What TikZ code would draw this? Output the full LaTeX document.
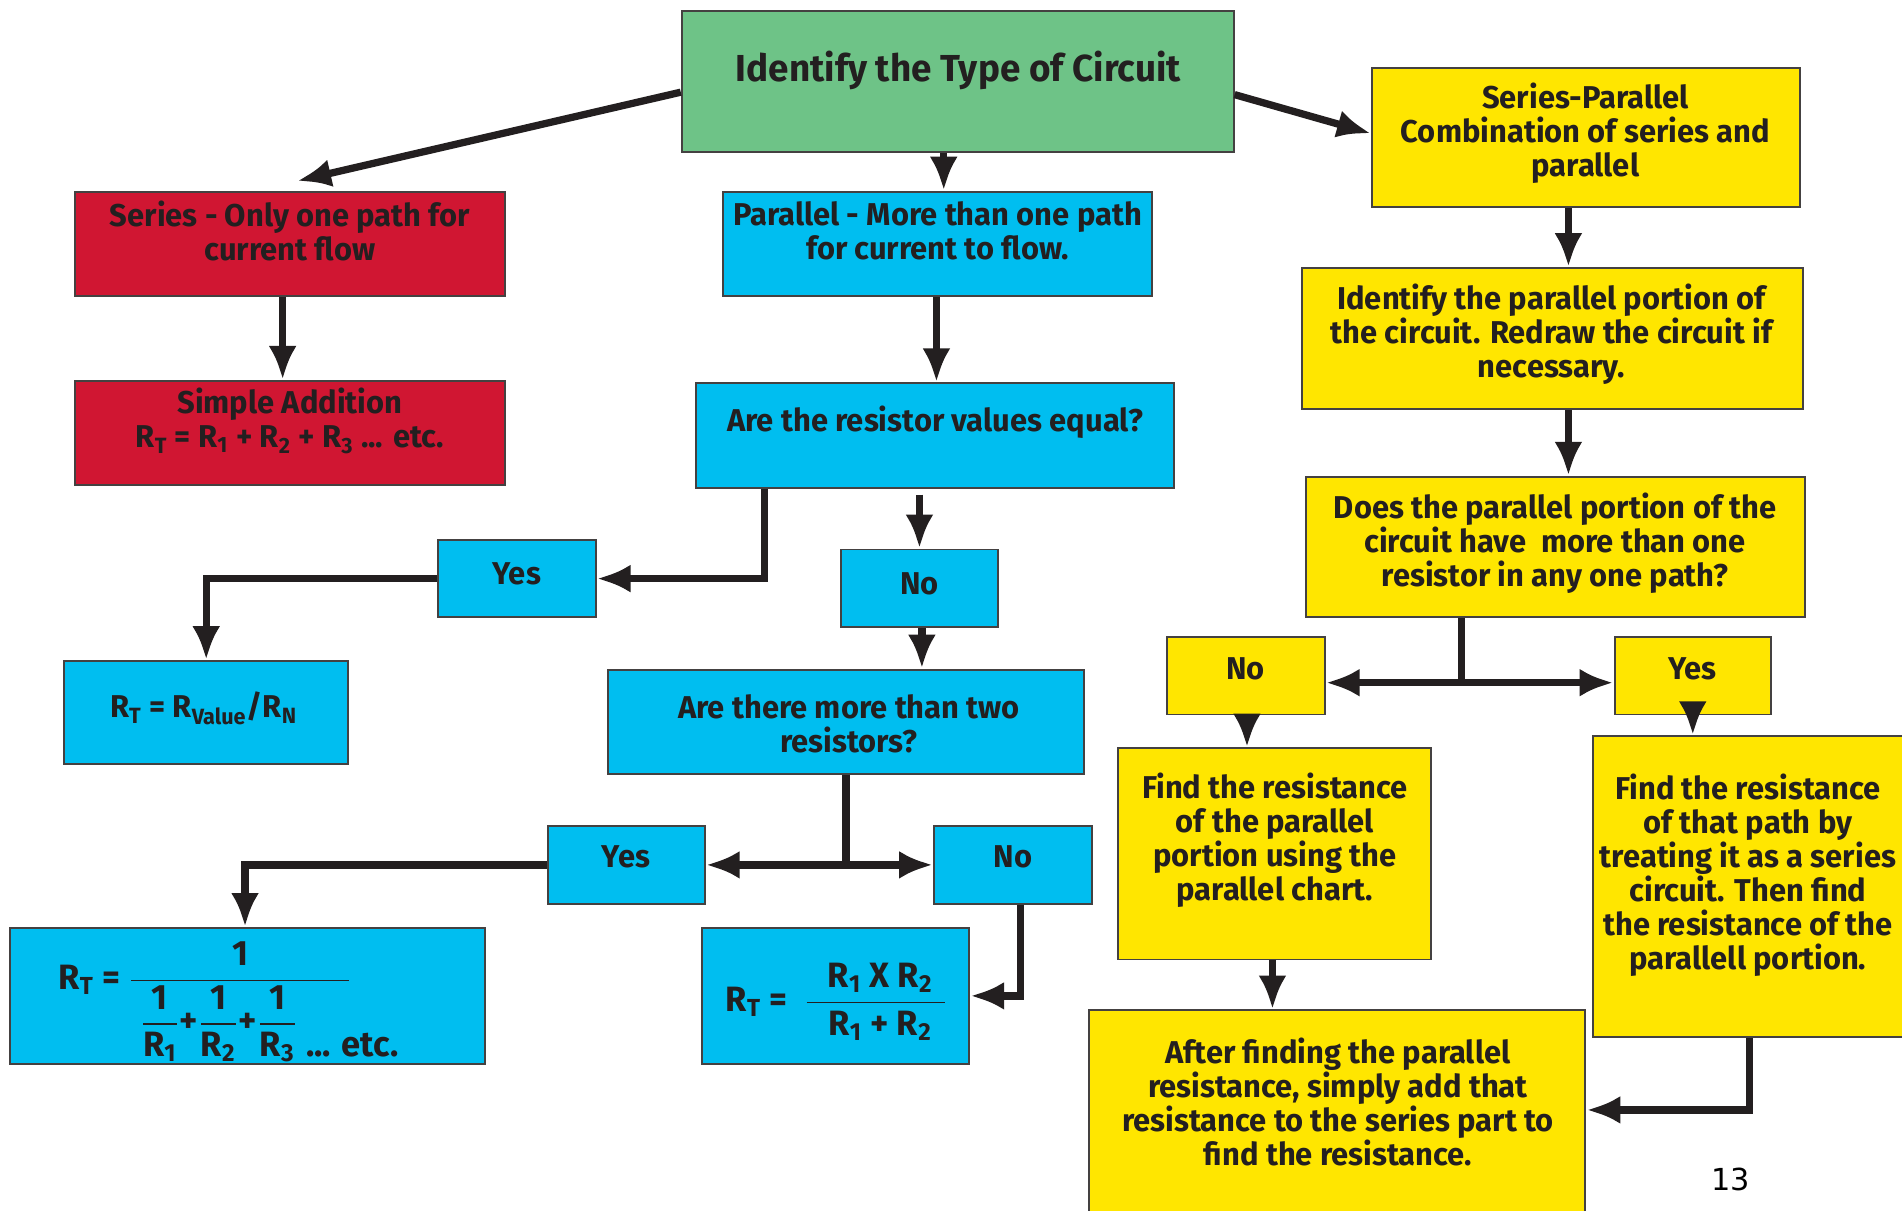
\documentclass[tikz,border=0pt]{standalone}
\usepackage{fontspec}
\usepackage{amsmath}
\setmainfont{Fira Sans}[FakeStretch=0.98]
\newfontfamily\pagefont{DejaVu Sans}
\usetikzlibrary{arrows.meta,calc}
\definecolor{ink}{HTML}{231F20}
\definecolor{cgreen}{HTML}{6EC387}
\definecolor{cred}{HTML}{D01632}
\definecolor{cblue}{HTML}{00BEF0}
\definecolor{cyellow}{HTML}{FFE600}
\tikzset{
  box/.style={draw=ink!85, line width=0.8pt, inner sep=0pt, rectangle},
  gbox/.style={box, fill=cgreen},
  rbox/.style={box, fill=cred},
  bbox/.style={box, fill=cblue},
  ybox/.style={box, fill=cyellow},
  txt/.style={font=\fontsize{13}{14}\selectfont\bfseries, text=ink, align=center, inner sep=0pt},
  fmtxt/.style={font=\fontsize{14.5}{16}\selectfont\bfseries, text=ink, align=center, inner sep=0pt},
  bigtxt/.style={font=\fontsize{15.5}{18}\selectfont\bfseries, text=ink, align=center, inner sep=0pt},
  conn/.style={draw=ink, line width=3pt, -{Latex[length=14pt,width=11.5pt]}},
  wire/.style={draw=ink, line width=3pt},
}
\newcommand{\sbs}[1]{\textsubscript{#1}}
\begin{document}
\begin{tikzpicture}[x=0.5pt,y=-0.5pt]
\useasboundingbox[fill=white] (0,0) rectangle (1568,998);

% boxes
\node[gbox, minimum width=227.5pt, minimum height=58pt] (green) at (789.5,67) {};
\node[rbox, minimum width=177pt, minimum height=43pt] (series) at (239,201) {};
\node[rbox, minimum width=177pt, minimum height=43pt] (simple) at (239,357) {};
\node[bbox, minimum width=177pt, minimum height=43pt] (parallel) at (773,201) {};
\node[bbox, minimum width=197pt, minimum height=43pt] (equal) at (771,359) {};
\node[bbox, minimum width=65pt, minimum height=32pt] (yes1) at (426,477) {};
\node[bbox, minimum width=65pt, minimum height=32pt] (no1) at (758,485) {};
\node[bbox, minimum width=117pt, minimum height=42.5pt] (rv) at (170,587.5) {};
\node[bbox, minimum width=196.5pt, minimum height=43pt] (more) at (697.5,595) {};
\node[bbox, minimum width=64.5pt, minimum height=32pt] (yes2) at (516.5,713) {};
\node[bbox, minimum width=65pt, minimum height=32pt] (no2) at (835,713) {};
\node[bbox, minimum width=196pt, minimum height=56pt] (big) at (204,821) {};
\node[bbox, minimum width=110pt, minimum height=56pt] (rtwo) at (689,821) {};
\node[ybox, minimum width=176.5pt, minimum height=57.5pt] (sp) at (1307.5,113.5) {};
\node[ybox, minimum width=206.5pt, minimum height=58pt] (ident) at (1279.5,279) {};
\node[ybox, minimum width=205.5pt, minimum height=58pt] (does) at (1282.5,451) {};
\node[ybox, minimum width=65pt, minimum height=32pt] (noY) at (1027,557) {};
\node[ybox, minimum width=64.5pt, minimum height=32pt] (yesY) at (1395.5,557) {};
\node[ybox, minimum width=129pt, minimum height=87pt] (findA) at (1051,704) {};
\node[ybox, minimum width=131pt, minimum height=124pt] (findB) at (1444,731) {};
\node[ybox, minimum width=204.5pt, minimum height=84.5pt] (after) at (1102.5,917.5) {};

% texts
\node[bigtxt] (greenT) at (790,58) {Identify the Type of Circuit};
\node[txt] (seriesT) at (239,190.5) {Series - Only one path for\\current flow};
\node[txt] (simpleT) at (239,347) {Simple Addition\\R\sbs{T} = R\sbs{1} + R\sbs{2} + R\sbs{3} ... etc.};
\node[txt] (parallelT) at (773,190.5) {Parallel - More than one path\\for current to flow.};
\node[txt] (equalT) at (771,348) {Are the resistor values equal?};
\node[txt] (yes1T) at (426,473) {Yes};
\node[txt] (no1T) at (758,481) {No};
\node[txt] (rvT) at (168,584) {R\sbs{T} = R\sbs{Value}/R\sbs{N}};
\node[txt] (moreT) at (700,597) {Are there more than two\\resistors?};
\node[txt] (yes2T) at (516,706) {Yes};
\node[txt] (no2T) at (835,706) {No};
\node[fmtxt, anchor=west] (bigT) at (48,826) {R\sbs{T} = $\dfrac{\text{1}}{\hspace{0.25em}\dfrac{\text{1}}{\text{R}_{\text{1}}}\text{+}\dfrac{\text{1}}{\text{R}_{\text{2}}}\text{+}\dfrac{\text{1}}{\text{R}_{\text{3}}}\rlap{\raisebox{-1.3ex}{\text{ ... etc.}}}\hspace{1.45em}}$};
\node[fmtxt, anchor=west] (rtwoT) at (598,826) {R\sbs{T} = \ $\dfrac{\hspace{0.6em}\text{R}_{\text{1}}\text{ X R}_{\text{2}}\hspace{0.35em}}{\hspace{0.6em}\text{R}_{\text{1}}\text{ + R}_{\text{2}}\hspace{0.35em}}$};
\node[txt] (spT) at (1307,110) {Series-Parallel\\Combination of series and\\parallel};
\node[txt] (identT) at (1279,275.5) {Identify the parallel portion of\\the circuit. Redraw the circuit if\\necessary.};
\node[txt] (doesT) at (1282,447.5) {Does the parallel portion of the\\circuit have\ \ more than one\\resistor in any one path?};
\node[txt] (noYT) at (1027,551) {No};
\node[txt] (yesYT) at (1395,551) {Yes};
\node[txt] (findAT) at (1051,693) {Find the resistance\\of the parallel\\portion using the\\parallel chart.};
\node[txt] (findBT) at (1441,721.5) {Find the resistance\\of that path by\\treating it as a series\\circuit. Then find\\the resistance of the\\parallell portion.};
\node[txt] (afterT) at (1103,908.5) {After finding the parallel\\resistance, simply add that\\resistance to the series part to\\find the resistance.};
\node[font=\pagefont\fontsize{12.5}{14}\selectfont, text=black, inner sep=0pt] (page) at (1427,972) {13};

% connectors
\draw[conn] ($(green.west)+(0,9)$) -- ($(series.north)+(6,-8)$);
\draw[conn] ($(green.east)+(0,11)$) -- ($(sp.west)+(0,-3.5)$);
\draw[conn] ($(green.south)+(-11.5,0)$) -- ($(parallel.north)+(5,0)$);
\draw[conn] ($(series.south)+(-6,0)$) -- ($(simple.north)+(-6,0)$);
\draw[conn] ($(parallel.south)+(-1,0)$) -- ($(equal.north)+(1,0)$);
\draw[conn] ($(equal.south)+(-141,0)$) |- (yes1.east);
\draw[conn] ($(equal.south)+(-13,5)$) -- (no1.north);
\draw[conn] (yes1.west) -| (rv.north);
\draw[conn] ($(no1.south)+(2,0)$) -- ($(more.north)+(62.5,0)$);
\coordinate (jA) at (more.south |- yes2.east);
\draw[wire] (more.south) -- (jA);
\draw[conn] (jA) -- (yes2.east);
\draw[conn] (jA) -- (no2.west);
\draw[conn] (yes2.west) -| ($(big.north)+(-2,0)$);
\draw[conn] ($(no2.south)+(6,0)$) |- (rtwo.east);
\draw[conn] ($(sp.south)+(-14.5,0)$) -- ($(ident.north)+(13.5,0)$);
\draw[conn] ($(ident.south)+(13.5,0)$) -- ($(does.north)+(10.5,0)$);
\coordinate (jB) at ($(does.south)+(-77.5,53)$);
\draw[wire] ($(does.south)+(-77.5,0)$) -- (jB);
\draw[conn] (jB) -- (jB -| noY.east);
\draw[conn] (jB) -- (jB -| yesY.west);
\draw[conn] ($(noY.south)+(1,0)$) -- ($(findA.north)+(-23,0)$);
\draw[conn] (yesY.south) -- (yesY.south |- findB.north);
\draw[conn] ($(findA.south)+(-2,0)$) -- ($(after.north)+(-53.5,0)$);
\draw[conn] ($(findB.south)+(-2,0)$) |- ($(after.east)+(0,-2.5)$);
\end{tikzpicture}
\end{document}
